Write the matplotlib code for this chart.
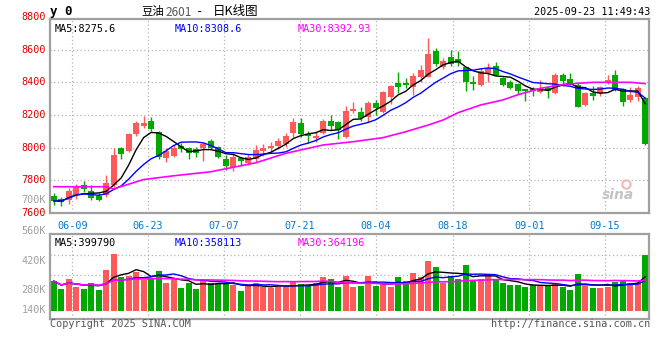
import matplotlib
matplotlib.use("Agg")
import matplotlib.pyplot as plt
import numpy as np
import pandas as pd

# daily candles, 豆油2601
opens = [7706, 7684, 7680, 7710, 7772, 7737, 7704, 7710, 7772, 8000,
         7982, 8084, 8135, 8164, 8098, 7939, 7950, 8011, 7997, 7990,
         7997, 8043, 8003, 7931, 7884, 7935, 7905, 7929, 7982, 7997,
         8011, 8023, 8089, 8150, 8084, 8058, 8089, 8164, 8156, 8064,
         8225, 8221, 8187, 8276, 8221, 8313, 8399, 8397, 8370, 8436,
         8436, 8595, 8493, 8558, 8544, 8497, 8400, 8385, 8460, 8501,
         8430, 8405, 8389, 8360, 8358, 8344, 8368, 8334, 8446, 8420,
         8385, 8262, 8338, 8334, 8395, 8446, 8358, 8293, 8313, 8303]
highs = [7721, 7700, 7751, 7778, 7798, 7772, 7724, 7833, 7997, 8006,
         8089, 8164, 8195, 8187, 8104, 7997, 8017, 8027, 8003, 8003,
         8027, 8054, 8008, 7955, 7962, 7945, 7962, 8017, 8023, 8037,
         8062, 8092, 8180, 8180, 8104, 8103, 8174, 8201, 8166, 8256,
         8282, 8248, 8288, 8293, 8350, 8385, 8466, 8426, 8460, 8507,
         8671, 8610, 8548, 8599, 8593, 8497, 8440, 8491, 8518, 8528,
         8436, 8415, 8395, 8360, 8374, 8415, 8379, 8456, 8456, 8456,
         8395, 8344, 8379, 8379, 8446, 8477, 8364, 8374, 8379, 8313]
lows = [7649, 7643, 7655, 7684, 7731, 7680, 7675, 7700, 7761, 7929,
        7972, 8074, 8119, 8105, 7931, 7914, 7945, 7976, 7931, 7941,
        7921, 7990, 7935, 7864, 7859, 7894, 7894, 7914, 7949, 7970,
        7990, 8006, 8068, 8064, 8031, 8037, 8084, 8109, 8052, 8058,
        8211, 8166, 8160, 8201, 8215, 8268, 8334, 8364, 8323, 8405,
        8432, 8499, 8481, 8501, 8501, 8348, 8354, 8379, 8405, 8440,
        8380, 8358, 8329, 8287, 8319, 8334, 8307, 8329, 8380, 8385,
        8248, 8256, 8293, 8319, 8391, 8348, 8256, 8282, 8288, 8017]
closes = [7675, 7670, 7735, 7761, 7745, 7692, 7682, 7782, 7955, 7962,
          8084, 8154, 8154, 8115, 7945, 7980, 8000, 7990, 7966, 7967,
          8021, 7997, 7941, 7890, 7945, 7920, 7945, 7986, 7997, 8013,
          8041, 8072, 8160, 8084, 8070, 8074, 8166, 8133, 8109, 8225,
          8237, 8180, 8276, 8245, 8344, 8380, 8375, 8385, 8440, 8477,
          8575, 8513, 8534, 8512, 8518, 8405, 8390, 8470, 8491, 8446,
          8386, 8368, 8348, 8345, 8350, 8368, 8350, 8446, 8410, 8396,
          8252, 8338, 8315, 8370, 8415, 8354, 8280, 8323, 8364, 8025]
volumes = [305, 262, 316, 274, 262, 293, 256, 365, 453, 329,
           333, 356, 313, 320, 360, 296, 315, 269, 296, 262,
           311, 296, 293, 293, 284, 253, 280, 296, 274, 266,
           280, 271, 302, 289, 278, 296, 329, 316, 271, 333,
           271, 278, 333, 280, 287, 271, 326, 305, 351, 326,
           414, 380, 293, 333, 316, 393, 311, 316, 333, 311,
           293, 284, 284, 274, 284, 284, 278, 293, 274, 256,
           344, 278, 269, 269, 274, 302, 305, 293, 296, 447]
volumes = [v * 1000 for v in volumes]

# MA30 line of the price panel, read at a few candles
ma30_idx = [0, 7, 8, 12, 16, 21, 27, 31, 36, 40, 44, 47, 50, 52, 54,
            57, 60, 62, 65, 68, 70, 72, 77, 79]
ma30_vals = [7761, 7761, 7748, 7805, 7828, 7853, 7908, 7966, 8017, 8037,
             8062, 8098, 8139, 8170, 8215, 8262, 8293, 8325, 8364, 8387,
             8395, 8401, 8401, 8393]

date_labels = ["06-09", "06-23", "07-07", "07-21", "08-04", "08-18", "09-01", "09-15"]
date_pos = [2.5, 12.6, 22.7, 32.9, 43.0, 53.3, 63.5, 73.6]
price_ticks = [8800, 8600, 8400, 8200, 8000, 7800, 7600]

RED = "#ff5a5a"
GREEN = "#00a800"
FRAME = "#a0a0a0"
GRID = "#b4b4b4"
MONO = "DejaVu Sans Mono"
CJK = ["Noto Sans CJK SC", "DejaVu Sans"]
W, H = 660, 360


def px(x, y):
    return x / W, 1 - y / H


fig = plt.figure(figsize=(6.6, 3.6), dpi=100)
fig.patch.set_facecolor("white")
ax = fig.add_axes([50 / W, 1 - 213 / H, 599 / W, 194 / H])
axv = fig.add_axes([50 / W, 1 - 318.7 / H, 599 / W, 84.4 / H])

n = len(closes)
x = np.arange(n)
df = pd.DataFrame({"open": opens, "high": highs, "low": lows, "close": closes, "vol": volumes})
up = df["close"] >= df["open"]
colors = np.where(up, RED, GREEN)

# ---- price panel
for yv in [8600, 8400, 8200, 8000, 7800]:
    ax.axhline(yv, color=GRID, lw=0.9, ls=(0, (1, 2)), zorder=0)
for p in date_pos:
    ax.axvline(p, color=GRID, lw=0.9, ls=(0, (1, 2)), zorder=0)

ax.vlines(x, df["low"], df["high"], colors=colors, lw=1.0, zorder=2)
body_lo = np.minimum(df["open"], df["close"])
body_h = np.maximum(np.abs(df["close"] - df["open"]), 2)
ax.bar(x, body_h, bottom=body_lo, width=0.8, color=colors, lw=0, zorder=3)

ma5 = df["close"].rolling(5, min_periods=1).mean()
ma10 = df["close"].rolling(10, min_periods=1).mean()
ax.plot(x, ma5, color="black", lw=1.0, zorder=4)
ax.plot(x, ma10, color="#0000ff", lw=1.0, zorder=4)
ax.plot(ma30_idx, ma30_vals, color="#ff00ff", lw=1.2, zorder=4)

ax.set_xlim(-0.5, n - 0.5)
ax.set_ylim(7600, 8789)
ax.set_xticks([])
ax.set_yticks([])
for s in ax.spines.values():
    s.set_color(FRAME)
    s.set_linewidth(1.6)

tr = ax.get_yaxis_transform()
for t in price_ticks:
    ax.text(-0.007, t, str(t), transform=tr, ha="right", va="center",
            color="#e00000", fontsize=7.3, family=MONO, clip_on=False)

ax.text(0.008, 0.975, "MA5:8275.6", transform=ax.transAxes, ha="left", va="top",
        color="black", fontsize=7.3, family=MONO)
ax.text(0.208, 0.975, "MA10:8308.6", transform=ax.transAxes, ha="left", va="top",
        color="#0000ff", fontsize=7.3, family=MONO)
ax.text(0.414, 0.975, "MA30:8392.93", transform=ax.transAxes, ha="left", va="top",
        color="#ff00ff", fontsize=7.3, family=MONO)
ax.text(0.975, 0.055, "sina", transform=ax.transAxes, ha="right", va="bottom",
        color="#c4c4c4", fontsize=10, style="italic", weight="bold")
ax.plot([0.962], [0.15], marker="o", ms=6, mfc="none", mec="#f2b8b8", mew=1.5,
        transform=ax.transAxes, clip_on=False)

for p, lab in zip(date_pos, date_labels):
    ax.text(p, -0.04, lab, transform=ax.get_xaxis_transform(), ha="center", va="top",
            color="#0a78c8", fontsize=7.3, family=MONO, clip_on=False)

# ---- volume panel
for yv in [447000, 338000, 229000]:
    axv.axhline(yv, color=GRID, lw=0.9, ls=(0, (1, 2)), zorder=0)
for p in date_pos:
    axv.axvline(p, color=GRID, lw=0.9, ls=(0, (1, 2)), zorder=0)

base = 140000
axv.bar(x, df["vol"] - base, bottom=base, width=0.8, color=colors, lw=0, zorder=2)
vma5 = df["vol"].rolling(5, min_periods=1).mean()
vma10 = df["vol"].rolling(10, min_periods=1).mean()
vma30 = df["vol"].rolling(30, min_periods=1).mean()
axv.plot(x, vma5, color="black", lw=1.0, zorder=3)
axv.plot(x, vma10, color="#0000ff", lw=1.0, zorder=3)
axv.plot(x, vma30, color="#ff00ff", lw=1.2, zorder=3)
axv.set_xlim(-0.5, n - 0.5)
axv.set_ylim(100000, 560000)
axv.set_xticks([])
axv.set_yticks([])
for s in axv.spines.values():
    s.set_color(FRAME)
    s.set_linewidth(1.6)

axv.text(0.008, 0.96, "MA5:399790", transform=axv.transAxes, ha="left", va="top",
         color="black", fontsize=7.3, family=MONO)
axv.text(0.208, 0.96, "MA10:358113", transform=axv.transAxes, ha="left", va="top",
         color="#0000ff", fontsize=7.3, family=MONO)
axv.text(0.414, 0.96, "MA30:364196", transform=axv.transAxes, ha="left", va="top",
         color="#ff00ff", fontsize=7.3, family=MONO)

for lab, yp in [("700K", 200), ("560K", 231), ("420K", 261), ("280K", 290), ("140K", 310)]:
    fig.text(*px(46, yp), lab, ha="right", va="center", color="#a0a0a0",
             fontsize=7.3, family=MONO)

# ---- header / footer
fig.text(*px(50, 12), "y 0", ha="left", va="center", color="black",
         fontsize=9, family=MONO, weight="bold")
fig.text(*px(141, 12), "豆油", ha="left", va="center", color="black",
         fontsize=8.2, family=CJK)
fig.text(*px(165, 12.5), "2601", ha="left", va="center", color="#555555",
         fontsize=8.5, family=CJK)
fig.text(*px(200, 12), "-", ha="center", va="center", color="black",
         fontsize=9, family=MONO)
fig.text(*px(213, 12), "日K线图", ha="left", va="center", color="black",
         fontsize=9, family=CJK)
fig.text(*px(650, 12), "2025-09-23 11:49:43", ha="right", va="center", color="black",
         fontsize=7.3, family=MONO)
fig.text(*px(50, 324), "Copyright 2025 SINA.COM", ha="left", va="center", color="#555555",
         fontsize=7.3, family=MONO)
fig.text(*px(650, 324), "http://finance.sina.com.cn", ha="right", va="center", color="#555555",
         fontsize=7.3, family=MONO)

fig.savefig("out.png", dpi=100, facecolor="white")
